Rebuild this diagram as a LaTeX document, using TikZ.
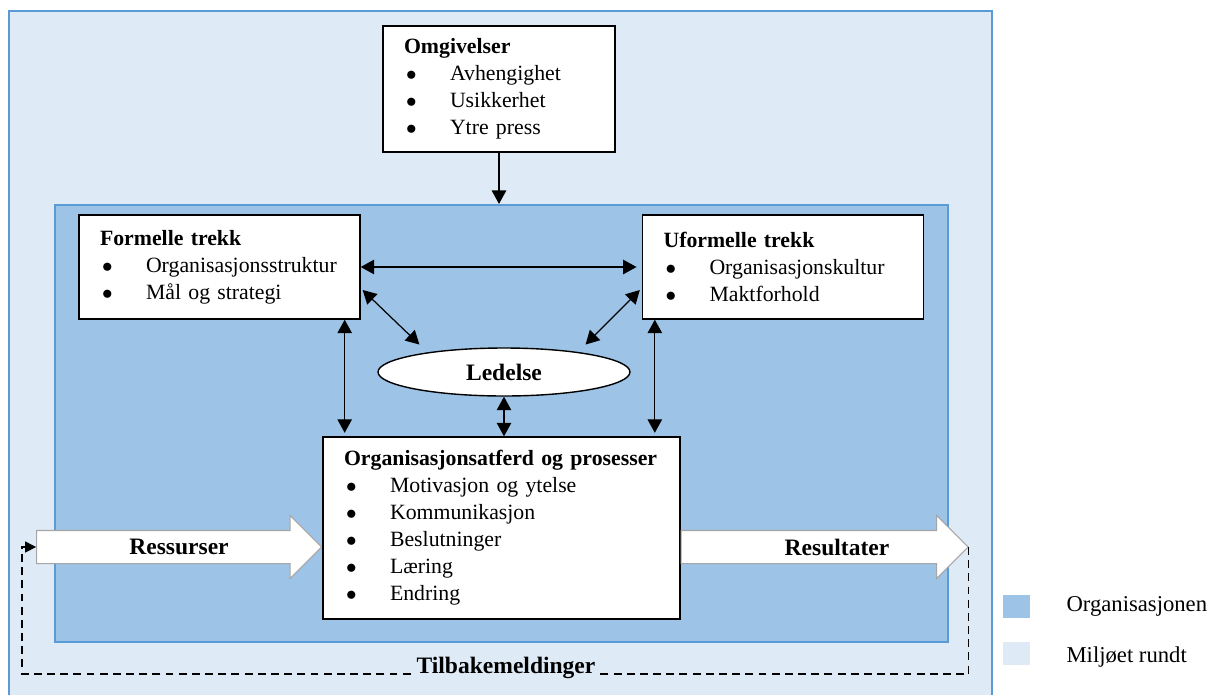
\documentclass[tikz,border=0pt]{standalone}
\usepackage{fontspec}
\setmainfont{Liberation Serif}
\usetikzlibrary{positioning}
\usetikzlibrary{calc}
\usetikzlibrary{shapes.geometric}
\usetikzlibrary{shapes.arrows}
\usetikzlibrary{arrows.meta}

\definecolor{miljoblue}{HTML}{DEEAF6}
\definecolor{orgblue}{HTML}{9DC3E6}
\definecolor{rimblue}{HTML}{5B9BD5}
\definecolor{flowgray}{HTML}{A6A6A6}

\newcommand{\punkt}[1]{\makebox[0.92cm][l]{\hspace{0.04cm}$\bullet$}#1}

\begin{document}
\begin{tikzpicture}[
    x=0.02cm, y=-0.02cm,
    font=\fontsize{12.4}{15.4}\selectfont,
    area/.style={rectangle, draw=rimblue, line width=1.3pt, inner sep=0pt},
    box/.style={rectangle, draw, fill=white, line width=0.8pt, align=left, inner xsep=0.42cm, inner ysep=0pt},
    heading/.style={font=\fontsize{13.4}{15.4}\selectfont\bfseries},
    link/.style={draw, line width=0.7pt, -{Triangle[length=2.7mm, width=2.9mm]}},
    twoway/.style={link, {Triangle[length=2.7mm, width=2.9mm]}-{Triangle[length=2.7mm, width=2.9mm]}},
    flow/.style={single arrow, draw=flowgray, fill=white, line width=0.6pt, inner xsep=0pt, inner ysep=0.32cm, single arrow head extend=0.3cm},
    feedback/.style={draw, line width=0.6pt, dash pattern=on 4.5pt off 3pt, -{Triangle[length=2.2mm, width=2.2mm]}},
    legendsq/.style={rectangle, minimum width=0.54cm, minimum height=0.46cm, inner sep=0pt}
]

\useasboundingbox (0,0) rectangle (1215,694);

% Define the two areas
\node[area, fill=miljoblue, minimum width=19.66cm, minimum height=14.18cm] (miljo) at (500.5,365.5) {};
\node[area, fill=orgblue, minimum width=17.86cm, minimum height=8.74cm] (organisasjon) at (501.5,423.5) {};

% Define the boxes
\node[box, text width=3.8cm, minimum height=2.52cm] (omgivelser) at (499,89)
    {\textbf{Omgivelser}\\ \punkt{Avhengighet}\\ \punkt{Usikkerhet}\\ \punkt{Ytre press}};
\node[box, text width=4.78cm, minimum height=2.08cm] (formelle) at (219.5,267)
    {\textbf{Formelle trekk}\\ \punkt{Organisasjonsstruktur}\\ \punkt{Mål og strategi}};
\node[box, text width=4.78cm, minimum height=2.08cm] (uformelle) at (783,267)
    {\textbf{Uformelle trekk}\\ \punkt{Organisasjonskultur}\\ \punkt{Maktforhold}};
\node[ellipse, draw, fill=white, line width=0.8pt, minimum width=5.04cm, minimum height=0.96cm, inner sep=0pt, heading] (ledelse) at (504,372) {Ledelse};
\node[box, text width=6.3cm, minimum height=3.64cm] (atferd) at (501.5,528)
    {\textbf{Organisasjonsatferd og prosesser}\\ \punkt{Motivasjon og ytelse}\\ \punkt{Kommunikasjon}\\ \punkt{Beslutninger}\\ \punkt{Læring}\\ \punkt{Endring}};

% Draw the links
\draw[link] (omgivelser) -- (omgivelser.south |- organisasjon.north);
\draw[twoway, shorten >=3pt] (formelle.east) -- (uformelle.west);
\draw[twoway] ($(formelle.east)+(2,23)$) -- ($(ledelse.north west)+(5,-10)$);
\draw[twoway] ($(uformelle.west)+(-2,23)$) -- ($(ledelse.north east)+(-8,-10)$);
\draw[twoway, shorten >=2pt] ([xshift=-0.32cm]formelle.south east) -- ([xshift=-0.32cm]formelle.south east |- atferd.north);
\draw[twoway, shorten >=2pt] ([xshift=0.26cm]uformelle.south west) -- ([xshift=0.26cm]uformelle.south west |- atferd.north);
\draw[twoway] (ledelse.south) -- (ledelse.south |- atferd.north);

% Inputs and outputs
\coordinate (flowline) at (0,547);
\node[flow, minimum height=5.7cm, anchor=tip] (ressurser) at (atferd.west |- flowline) {};
\node[flow, minimum height=5.74cm, anchor=tail] (resultater) at (atferd.east |- flowline) {};
\node[heading] (ressurserlbl) at (179,547) {Ressurser};
\node[heading] (resultaterlbl) at (837,547) {Resultater};

% Feedback loop
\coordinate (fbcorner) at (22,674);
\draw[feedback] (resultater.tip) |- (fbcorner) |- (ressurser.tail);
\node[fill=miljoblue, inner sep=1pt, heading] (tilbake) at (506,668) {Tilbakemeldinger};

% Legend
\node[legendsq, fill=orgblue] (legorg) at (1016.5,606) {};
\node[legendsq, fill=miljoblue] (legmiljo) at (1016.5,653) {};
\node[right=0.6cm of legorg, font=\fontsize{12.9}{15.4}\selectfont] (legorgtxt) {Organisasjonen};
\node[right=0.6cm of legmiljo, yshift=-0.08cm, font=\fontsize{12.9}{15.4}\selectfont] (legmiljotxt) {Miljøet rundt};

\end{tikzpicture}
\end{document}
